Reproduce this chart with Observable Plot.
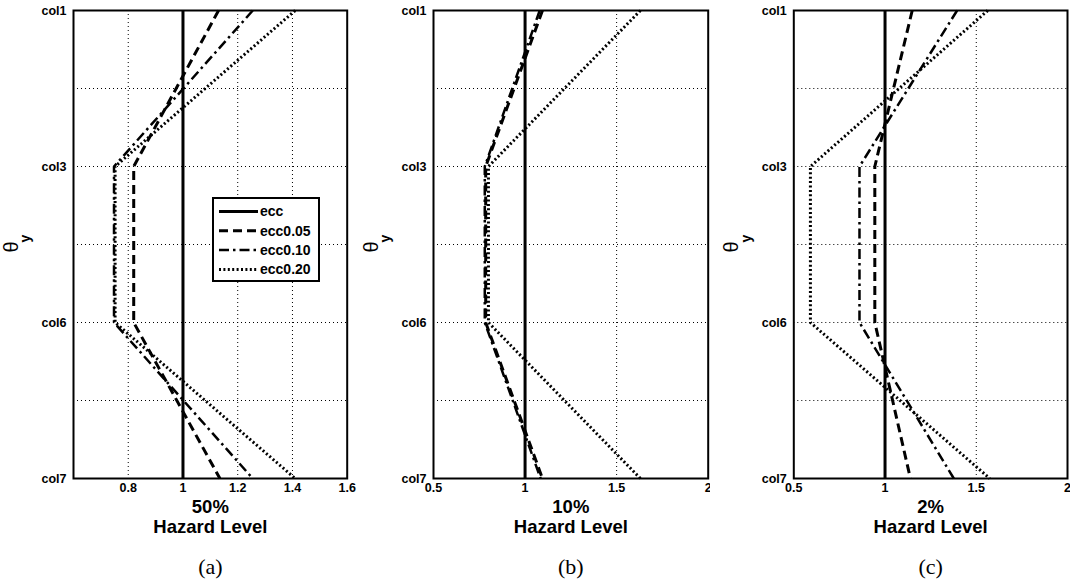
<!DOCTYPE html>
<html>
<head>
<meta charset="utf-8">
<script src="https://cdn.jsdelivr.net/npm/d3@7"></script>
<script src="https://cdn.jsdelivr.net/npm/@observablehq/plot@0.6"></script>
<style>
  body { margin: 0; background: #fff; }
  #wrap { position: relative; width: 1070px; height: 582px; overflow: hidden; background: #fff; }
  #wrap > svg { position: absolute; top: 0; }
  #wrap g[aria-label="x-axis tick label"], #wrap g[aria-label="y-axis tick label"] { font-size: 12.5px; font-weight: bold; }
  #legend { position: absolute; left: 212px; top: 197px; width: 104px; height: 81px; border: 2px solid #000; background: #fff; }
</style>
</head>
<body>
<div id="wrap"></div>
<script>
// ---- data ----
const rowPos = [1, 2, 3, 4];
const rowLabels = ["col1", "col3", "col6", "col7"];
const yGridTicks = [1, 1.5, 2, 2.5, 3, 3.5, 4];
const seriesNames = ["ecc", "ecc0.05", "ecc0.10", "ecc0.20"];
const panelTitles = ["50%", "10%", "2%"];
const panelTags = ["(a)", "(b)", "(c)"];
const xLabel = "Hazard Level";
const xDomainA = [0.6, 1.6];
const xDomainB = [0.5, 2];
const xDomainC = [0.5, 2];
const xTicksA = [0.8, 1, 1.2, 1.4, 1.6];
const xTicksB = [0.5, 1, 1.5, 2];
const xTicksC = [0.5, 1, 1.5, 2];

// values at col1, col3, col6, col7
const a_ecc    = [1, 1, 1, 1];
const a_ecc005 = [1.13, 0.82, 0.82, 1.135];
const a_ecc010 = [1.255, 0.748, 0.748, 1.255];
const a_ecc020 = [1.41, 0.752, 0.752, 1.41];

const b_ecc    = [1, 1, 1, 1];
const b_ecc005 = [1.095, 0.785, 0.785, 1.095];
const b_ecc010 = [1.08, 0.78, 0.78, 1.085];
const b_ecc020 = [1.63, 0.80, 0.80, 1.63];

const c_ecc    = [1, 1, 1, 1];
const c_ecc005 = [1.149, 0.944, 0.944, 1.139];
const c_ecc010 = [1.395, 0.86, 0.86, 1.377];
const c_ecc020 = [1.563, 0.591, 0.591, 1.574];

// ---- styling / layout ----
const seriesStyles = [
  { w: 3, dash: null },
  { w: 3, dash: "9,5" },
  { w: 2.5, dash: "10,4,2.5,4" },
  { w: 3, dash: "2,2.4" }
];
const panels = [
  { left: 0,   ml: 73,   mr: 13.3, domain: xDomainA, ticks: xTicksA, grid: [0.8, 1, 1.2, 1.4], series: [a_ecc, a_ecc005, a_ecc010, a_ecc020] },
  { left: 360, ml: 73,   mr: 12.3, domain: xDomainB, ticks: xTicksB, grid: [1, 1.5], series: [b_ecc, b_ecc005, b_ecc010, b_ecc020] },
  { left: 710, ml: 83.3, mr: 3,    domain: xDomainC, ticks: xTicksC, grid: [1, 1.5], series: [c_ecc, c_ecc005, c_ecc010, c_ecc020] }
];
const labelOf = new Map(rowPos.map((p, i) => [p, rowLabels[i]]));
const wrap = document.getElementById("wrap");
const sansFont = "'Liberation Sans', Arial, Helvetica, sans-serif";
const serifFont = "'Liberation Serif', 'Times New Roman', serif";

panels.forEach((p, pi) => {
  const lineMarks = p.series.map((vals, si) => Plot.line(
    rowPos.map((r, i) => ({ row: r, v: vals[i], s: seriesNames[si] })),
    {
      x: "v", y: "row",
      stroke: "black",
      strokeWidth: seriesStyles[si].w,
      strokeDasharray: seriesStyles[si].dash,
      strokeLinecap: "butt",
      strokeLinejoin: "miter"
    }
  ));
  const chart = Plot.plot({
    width: 360,
    height: 582,
    marginLeft: p.ml,
    marginRight: p.mr,
    marginTop: 10,
    marginBottom: 104,
    style: { fontFamily: sansFont, fontWeight: "bold", fontSize: "12.5px", color: "black", background: "white", overflow: "visible" },
    x: { domain: p.domain },
    y: { domain: [1, 4], reverse: true },
    marks: [
      Plot.gridX(p.grid, { stroke: "black", strokeOpacity: 1, strokeWidth: 1, strokeDasharray: "1,3" }),
      Plot.gridY(yGridTicks, { stroke: "black", strokeOpacity: 1, strokeWidth: 1, strokeDasharray: "1,3" }),
      Plot.axisX(p.ticks, { tickSize: 0, tickPadding: 5, label: null, tickFormat: d => String(d) }),
      Plot.axisY(yGridTicks, { tickSize: 0, tickPadding: 7, label: null,
        tickFormat: d => labelOf.has(d) ? labelOf.get(d) : "" }),
      ...lineMarks,
      Plot.frame({ stroke: "black", strokeWidth: 2 }),
      Plot.text([panelTitles[pi]], { text: d => d, frameAnchor: "bottom", dy: 29, fontSize: 18.5, fontWeight: "bold", lineAnchor: "middle" }),
      Plot.text([xLabel], { text: d => d, frameAnchor: "bottom", dy: 49, fontSize: 18.5, fontWeight: "bold", lineAnchor: "middle" }),
      Plot.text([panelTags[pi]], { text: d => d, frameAnchor: "bottom", dy: 88, fontSize: 22, fontWeight: "normal", fontFamily: serifFont, lineAnchor: "middle" }),
      Plot.text(["θ"], { text: d => d, frameAnchor: "left", dx: -62, dy: 8, rotate: -90, fontSize: 20, fontWeight: "normal", lineAnchor: "middle" }),
      Plot.text(["y"], { text: d => d, frameAnchor: "left", dx: -47.5, dy: -2, rotate: -90, fontSize: 14, fontWeight: "bold", lineAnchor: "middle" })
    ]
  });
  chart.style.left = p.left + "px";
  wrap.appendChild(chart);
});

// legend inside panel (a)
const legend = document.createElement("div");
legend.id = "legend";
wrap.appendChild(legend);
const lsvg = d3.select(legend).append("svg").attr("width", 104).attr("height", 81)
  .style("font-family", sansFont).style("font-weight", "bold").style("font-size", "14px");
seriesNames.forEach((name, i) => {
  const cy = 12.5 + i * 19.3;
  lsvg.append("line").attr("x1", 5).attr("x2", 44).attr("y1", cy).attr("y2", cy)
    .attr("stroke", "black").attr("stroke-width", seriesStyles[i].w)
    .attr("stroke-dasharray", seriesStyles[i].dash);
  lsvg.append("text").attr("x", 46).attr("y", cy).attr("dy", "0.35em").text(name);
});
</script>
</body>
</html>
